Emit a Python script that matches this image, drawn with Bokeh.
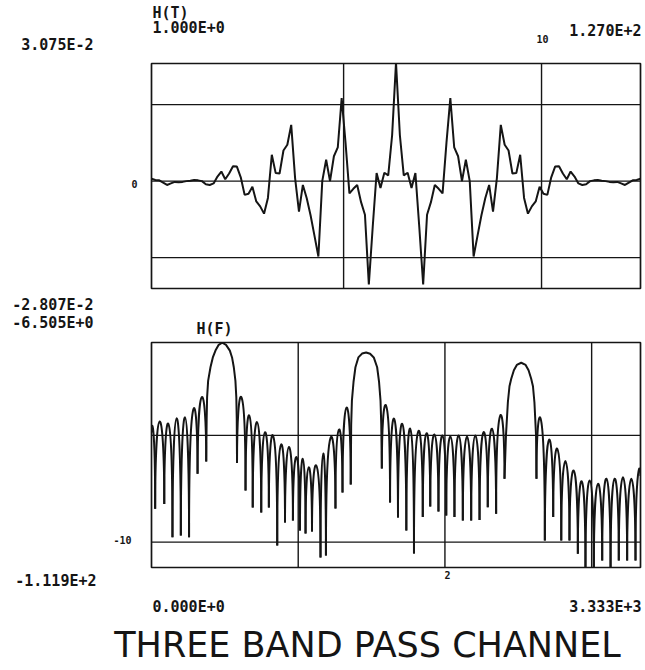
from bokeh.plotting import figure
from bokeh.layouts import column, row
from bokeh.models import Span
from bokeh.core.properties import value
from bokeh.embed import file_html
from bokeh.resources import INLINE

# ---------------- data: impulse response H(T), samples 1..127 ----------------
t_samples = list(range(1, 128))
h_t = [
    0.0006, 0.0003, 0.0002, -0.0004, -0.0010, -0.0006, -0.0002, -0.0003, -0.0002, 0.0000,
    0.0001, 0.0003, 0.0002, 0.0000, -0.0008, -0.0010, -0.0006, 0.0012, 0.0025, 0.0005,
    0.0020, 0.0039, 0.0038, 0.0010, -0.0036, -0.0033, -0.0015, -0.0053, -0.0066, -0.0085,
    -0.0044, 0.0069, 0.0021, 0.0020, 0.0080, 0.0095, 0.0147, 0.0008, -0.0080, -0.0010,
    -0.0045, -0.0090, -0.0143, -0.0197, 0.0000, 0.0056, 0.0000, 0.0065, 0.0088, 0.0217,
    0.0100, -0.0032, -0.0020, -0.0010, -0.0055, -0.0088, -0.0270, -0.0120, 0.0021, -0.0018,
    0.0022, 0.0015, 0.0120,
    0.0310,
    0.0120, 0.0015, 0.0022, -0.0018, 0.0021, -0.0120, -0.0270, -0.0088, -0.0055, -0.0010,
    -0.0020, -0.0032, 0.0100, 0.0217, 0.0088, 0.0065, 0.0000, 0.0056, 0.0000, -0.0197,
    -0.0143, -0.0090, -0.0045, -0.0010, -0.0080, 0.0008, 0.0147, 0.0095, 0.0080, 0.0020,
    0.0021, 0.0069, -0.0044, -0.0085, -0.0066, -0.0053, -0.0015, -0.0033, -0.0036, 0.0010,
    0.0038, 0.0039, 0.0020, 0.0005, 0.0025, 0.0012, -0.0006, -0.0010, -0.0008, 0.0000,
    0.0002, 0.0003, 0.0001, 0.0000, -0.0002, -0.0003, -0.0002, -0.0006, -0.0010, -0.0004,
    0.0002, 0.0003, 0.0006,
]
t_min, t_max = 1.0, 127.0
h_min, h_max = -2.807e-2, 3.075e-2
t_grid = [50.5, 101.5]
h_grid = [0.02, 0.0, -0.02]

# ---------------- data: frequency response H(F) in dB ----------------
f_min, f_max = 0.0, 3333.0
db_min, db_max = -111.9, -6.505
f_grid = [1000, 2000, 3000]
db_grid = [-50, -100]

# nulls (Hz, dB) of the response, left to right (first / last are the edges)
null_hz = [0, 25, 87, 143, 200, 256, 314, 373, 583, 641,
           690, 748, 800, 857, 910, 964, 1012, 1050, 1094, 1152,
           1189, 1254, 1302, 1358, 1570, 1626, 1680, 1737, 1789, 1849,
           1900, 1956, 2009, 2065, 2122, 2179, 2236, 2292, 2349, 2406,
           2624, 2681, 2738, 2793, 2849, 2906, 2958, 3015, 3072, 3129,
           3185, 3242, 3299, 3333]
null_db = [-48.7, -84.4, -82.1, -97.7, -96.9, -97.7, -68.0, -62.2, -62.9, -75.8,
           -83.8, -86.1, -83.8, -101.6, -90.8, -89.9, -94.6, -96.0, -95.0, -107.2,
           -106.3, -84.3, -76.8, -73.0, -65.5, -81.4, -88.5, -94.6, -105.3, -88.3,
           -83.3, -85.7, -87.5, -88.3, -89.9, -89.9, -89.6, -83.7, -86.7, -70.3,
           -70.3, -99.2, -88.3, -99.2, -99.2, -105.5, -111.7, -112.5, -108.6, -112.5,
           -108.6, -108.6, -108.6, -69.0]
# side-lobe peak level between consecutive nulls (None = pass band, listed below)
lobe_peak_db = [-48.2, -43.5, -44.6, -42.0, -41.5, -37.9, -32.1, None, -32.1, -40.7,
                -43.8, -48.5, -50.1, -54.3, -55.5, -60.2, -61.0, -64.9, -64.1, -58.5,
                -51.0, -47.3, -37.0, None, -36.0, -42.2, -44.6, -46.9, -48.0, -49.0,
                -49.6, -50.1, -50.5, -50.1, -50.5, -50.1, -48.5, -46.9, -40.7, None,
                -42.2, -52.1, -56.3, -62.0, -66.5, -71.5, -71.1, -72.7, -70.3, -70.3,
                -69.6, -70.3, -68.5]

band1_hz = [373, 376, 379, 386, 402, 418, 436, 458, 482, 508, 534, 549, 561, 572, 578, 581, 583]
band1_db = [-62.2, -42.0, -32.1, -24.5, -18.1, -13.5, -10.3, -7.6, -6.6, -7.6, -10.3, -13.5, -18.1, -24.5, -32.1, -42.0, -62.9]
band2_hz = [1358, 1361, 1366, 1377, 1390, 1410, 1435, 1463, 1490, 1515, 1538, 1551, 1561, 1566, 1570]
band2_db = [-73.0, -45.0, -33.7, -25.0, -18.1, -13.5, -11.7, -11.2, -11.8, -13.5, -18.1, -25.0, -33.7, -45.0, -65.5]
band3_hz = [2406, 2416, 2429, 2440, 2452, 2470, 2490, 2520, 2550, 2570, 2588, 2600, 2610, 2621, 2624]
band3_db = [-70.3, -50.1, -34.5, -27.0, -23.5, -19.5, -17.0, -16.0, -17.0, -19.5, -23.5, -27.0, -34.5, -50.1, -70.3]

# ---------------- styling / layout ----------------
INK = "#151515"
MONO = "DejaVu Sans Mono"
W = 645
LEFT_W = 149          # width of the left label strip
PLOT_W = W - LEFT_W   # plot canvas (2 px border left, 5 px right)
PLOT_H = 229          # 225 px frame + 2 px borders
CURVE_W = 2.0
GRID_W = 1.4


def bare(p):
    p.grid.visible = False
    p.background_fill_color = "white"
    p.border_fill_color = "white"
    return p


def plot_fig(xr, yr):
    p = figure(width=PLOT_W, height=PLOT_H, x_range=xr, y_range=yr,
               x_axis_location=None, y_axis_location=None,
               toolbar_location=None, output_backend="svg", title=None,
               min_border_left=2, min_border_right=5,
               min_border_top=2, min_border_bottom=2)
    bare(p)
    p.outline_line_color = INK
    p.outline_line_width = 1.7
    return p


def text_fig(width, x0, x1, y_top, y_bottom):
    # a text strip whose ranges are the page position (y grows downwards)
    p = figure(width=width, height=y_bottom - y_top, x_range=(x0, x1),
               y_range=(y_bottom, y_top), x_axis_location=None, y_axis_location=None,
               toolbar_location=None, output_backend="svg", title=None, min_border=0)
    bare(p)
    p.outline_line_color = None
    return p


def txt(p, x, y, s, align="left", size=15, bold=True, font=MONO):
    p.text(x=[x], y=[y], text=[s], text_align=align, text_baseline="middle",
           text_font=value(font), text_font_size=value(f"{size}px"),
           text_font_style="bold" if bold else "normal", text_color=INK)


# ---------------- top: H(T) ----------------
p1 = plot_fig((t_min, t_max), (h_min, h_max))
for g in t_grid:
    p1.add_layout(Span(location=g, dimension="height", line_color=INK, line_width=GRID_W))
for g in h_grid:
    p1.add_layout(Span(location=g, dimension="width", line_color=INK, line_width=GRID_W))
p1.line(t_samples, h_t, line_color=INK, line_width=CURVE_W)

# ---------------- bottom: H(F) ----------------
p2 = plot_fig((f_min, f_max), (db_min, db_max))
for g in f_grid:
    p2.add_layout(Span(location=g, dimension="height", line_color=INK, line_width=GRID_W))
for g in db_grid:
    p2.add_layout(Span(location=g, dimension="width", line_color=INK, line_width=GRID_W))

bz = dict(x0=[], y0=[], x1=[], y1=[], cx0=[], cy0=[], cx1=[], cy1=[])
for i, pk in enumerate(lobe_peak_db):
    if pk is None:
        continue
    a, b = null_hz[i], null_hz[i + 1]
    da, db = null_db[i], null_db[i + 1]
    hc = (pk - 0.125 * (da + db)) / 0.75
    bz["x0"].append(a); bz["y0"].append(da)
    bz["x1"].append(b); bz["y1"].append(db)
    bz["cx0"].append(a); bz["cy0"].append(hc)
    bz["cx1"].append(b); bz["cy1"].append(hc)
p2.bezier(x0=bz["x0"], y0=bz["y0"], x1=bz["x1"], y1=bz["y1"],
          cx0=bz["cx0"], cy0=bz["cy0"], cx1=bz["cx1"], cy1=bz["cy1"],
          line_color=INK, line_width=CURVE_W)
for bx, by in ((band1_hz, band1_db), (band2_hz, band2_db), (band3_hz, band3_db)):
    p2.line(bx, by, line_color=INK, line_width=CURVE_W)

# ---------------- text strips ----------------
t1 = text_fig(W, 0, W, 0, 61)
txt(t1, 152, 12, "H(T)")
txt(t1, 152, 27, "1.000E+0")
txt(t1, 93, 44, "3.075E-2", align="right")
txt(t1, 641, 30, "1.270E+2", align="right")
txt(t1, 542, 38, "10", align="center", size=10)

l1 = text_fig(LEFT_W, 0, LEFT_W, 61, 290)
txt(l1, 137, 184, "0", align="right", size=10)

t2 = text_fig(W, 0, W, 290, 340)
txt(t2, 93, 304, "-2.807E-2", align="right")
txt(t2, 93, 322, "-6.505E+0", align="right")
txt(t2, 196, 328, "H(F)")

l2 = text_fig(LEFT_W, 0, LEFT_W, 340, 569)
txt(l2, 131, 541, "-10", align="right", size=10)

t3 = text_fig(W, 0, W, 569, 670)
txt(t3, 447, 574, "2", align="center", size=10)
txt(t3, 96, 580, "-1.119E+2", align="right")
txt(t3, 152, 606, "0.000E+0")
txt(t3, 641, 606, "3.333E+3", align="right")
txt(t3, 367, 644, "THREE BAND PASS CHANNEL", align="center", size=35,
    bold=False, font="DejaVu Sans")

layout = column(t1, row(l1, p1), t2, row(l2, p2), t3)
open("out.html", "w").write(file_html(layout, INLINE))
